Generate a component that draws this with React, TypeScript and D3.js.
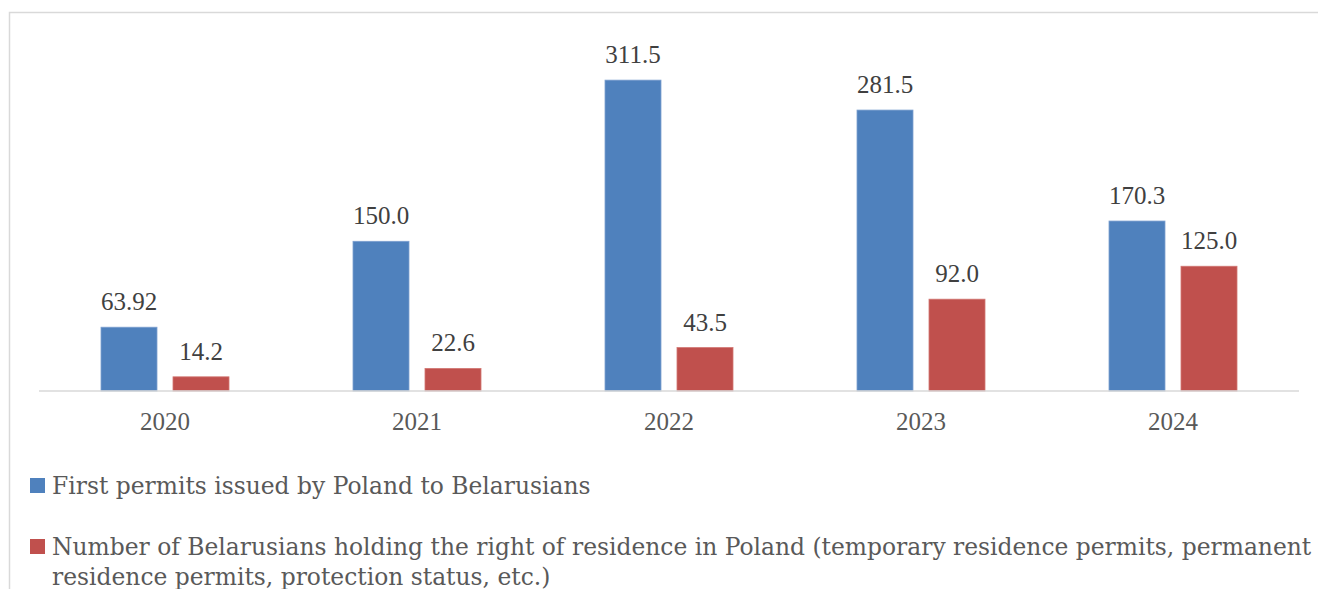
import React from "react";
import * as d3 from "d3";

const years = ["2020", "2021", "2022", "2023", "2024"];
const firstPermits = [63.92, 150.0, 311.5, 281.5, 170.3];
const firstPermitLabels = ["63.92", "150.0", "311.5", "281.5", "170.3"];
const residence = [14.2, 22.6, 43.5, 92.0, 125.0];
const residenceLabels = ["14.2", "22.6", "43.5", "92.0", "125.0"];
const seriesNames = [
  ["First permits issued by Poland to Belarusians"],
  [
    "Number of Belarusians holding the right of residence in Poland (temporary residence permits, permanent",
    "residence permits, protection status, etc.)",
  ],
];
const colors = ["#4f81bd", "#c0504d"];

const W = 1318;
const H = 589;
const FONT = "'Liberation Serif', 'Times New Roman', serif";
const LEGEND_FONT = "'DejaVu Serif', serif";

export default function App() {
  const x = d3.scaleBand<string>().domain(years).range([39, 1299]);
  const y = d3.scaleLinear().domain([0, 350]).range([391, 391 - 349.3]);

  const innerOffset = (x.bandwidth() - 128) / 2;
  const series = [
    { values: firstPermits, labels: firstPermitLabels },
    { values: residence, labels: residenceLabels },
  ];
  const bw = 56;
  const innerX = (i: number) => innerOffset + i * (bw + 16);

  return (
    <svg
      width={W}
      height={H}
      style={{ position: "absolute", left: 0, top: 0, background: "#fff" }}
    >
      <path d={`M9.5,${H + 5}V12.5H${W + 5}`} fill="none" stroke="#d9d9d9" strokeWidth={1.5} />
      {series.map((s, si) =>
        s.values.map((v, i) => {
          const bx = (x(years[i]) as number) + innerX(si);
          return (
            <g key={`${si}-${i}`}>
              <rect
                x={bx}
                y={y(v)}
                width={bw}
                height={y(0) - y(v)}
                fill={colors[si]}
                stroke={si === 0 ? "#7da0d0" : "#d27672"}
                strokeWidth={0.8}
              />
              <text
                x={bx + bw / 2}
                y={y(v) - 17}
                textAnchor="middle"
                fontFamily={FONT}
                fontSize={25}
                fill="#404040"
              >
                {s.labels[i]}
              </text>
            </g>
          );
        })
      )}
      <line x1={39} x2={1299} y1={391} y2={391} stroke="#d9d9d9" strokeWidth={1.5} />
      {years.map((yr) => (
        <text
          key={yr}
          x={(x(yr) as number) + x.bandwidth() / 2}
          y={430}
          textAnchor="middle"
          fontFamily={FONT}
          fontSize={25}
          fill="#595959"
        >
          {yr}
        </text>
      ))}
      {seriesNames.map((lines, si) => {
        const baseY = si === 0 ? 494 : 555;
        return (
          <g key={si}>
            <rect x={30} y={baseY - 16} width={15} height={15} fill={colors[si]} />
            <text fontFamily={LEGEND_FONT} fontSize={23.4} fill="#595959">
              {lines.map((ln, li) => (
                <tspan key={li} x={52} y={baseY + li * 30}>
                  {ln}
                </tspan>
              ))}
            </text>
          </g>
        );
      })}
    </svg>
  );
}
